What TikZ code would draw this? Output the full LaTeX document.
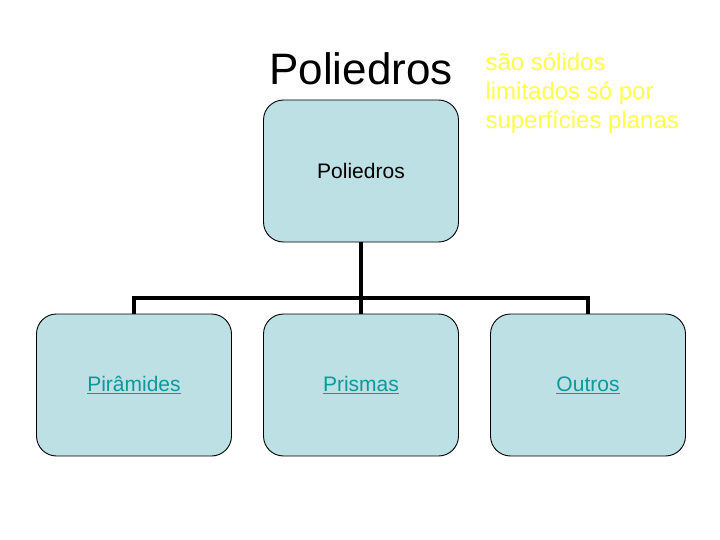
\documentclass[tikz,border=0pt]{standalone}
\usepackage{fontspec}
\setmainfont{Liberation Sans}
\usepackage{xcolor}
\usetikzlibrary{positioning}
\definecolor{boxfill}{HTML}{BCE0E4}
\definecolor{linkcol}{HTML}{0A9A9A}
\definecolor{notecol}{HTML}{FFFF4D}
\begin{document}
\begin{tikzpicture}[x=1pt,y=-1pt,
  box/.style={draw,rounded corners=20pt,minimum width=195pt,minimum height=142pt,fill=boxfill,line width=0.9pt,font=\fontsize{21}{25}\selectfont},
  lnk/.style={text=linkcol},
  tree/.style={line width=3.5pt,line join=miter}]
 \useasboundingbox (0,0) rectangle (720,540);
 \node[font=\fontsize{44}{50}\selectfont] (title) at (361,69) {Poliedros};
 \node[anchor=west,align=left,text=notecol,font=\fontsize{24}{29}\selectfont] (note) at (482,93) {são sólidos\\limitados só por\\superfícies planas};
 \node[box] (top) at (361,171) {Poliedros};
 \node[box,lnk] (pir) at (134,385) {\underline{Pirâmides}};
 \node[box,lnk] (pri) at (361,385) {\underline{Prismas}};
 \node[box,lnk] (out) at (588,385) {\underline{Outros}};
 \coordinate (hub) at (361,298);
 \draw[tree] (top) -- (hub);
 \foreach \b in {pir,pri,out} \draw[tree] (hub) -| (\b);
\end{tikzpicture}
\end{document}
